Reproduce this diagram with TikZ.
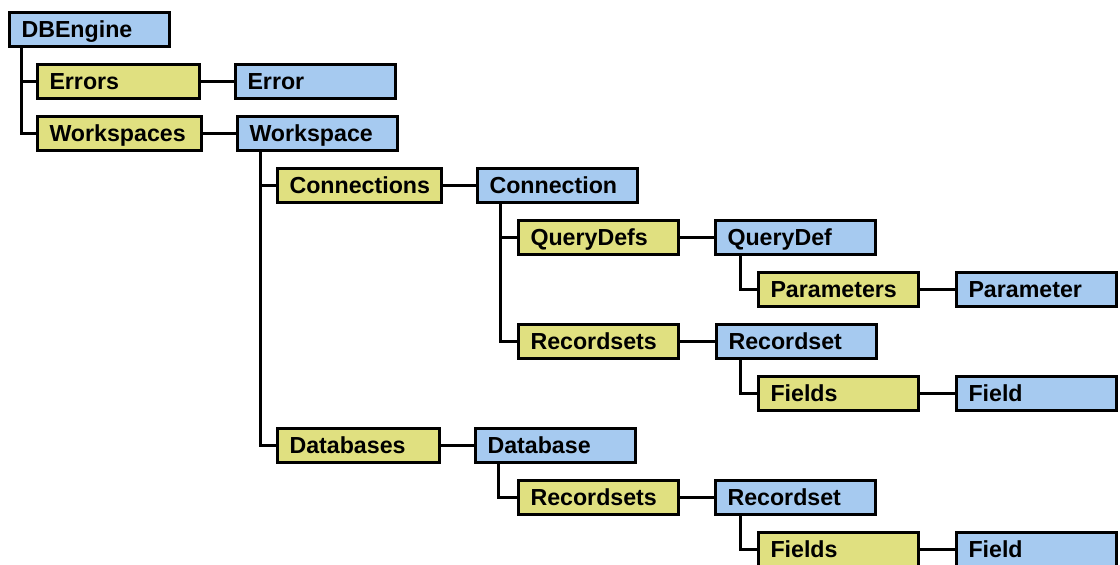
\documentclass[tikz,border=0pt]{standalone}
\usepackage{fontspec}
\setmainfont{Liberation Sans}
\usetikzlibrary{calc}
\definecolor{collblue}{RGB}{166,202,240}
\definecolor{collyellow}{RGB}{224,224,128}
\begin{document}
\begin{tikzpicture}[x=0.5pt,y=-0.5pt,
  obj/.style={draw=black, line width=1.5pt, anchor=west, shape=rectangle,
    minimum height=17pt, inner xsep=6pt, inner ysep=0pt,
    text width=68pt, align=left, text height=8.3pt, text depth=0pt,
    font=\fontsize{11.6pt}{14pt}\selectfont\bfseries},
  widebox/.style={text width=70pt},
  midbox/.style={text width=69pt},
  coll/.style={obj, fill=collyellow},
  item/.style={obj, fill=collblue},
  link/.style={draw=black, line width=1.5pt}]
\useasboundingbox (0,0) rectangle (1120,565);
\fill[white] (0,0) rectangle (1120,565);
\clip (0,0) rectangle (1120,565);

% object hierarchy, one row every 52 units
\node[item] (dbengine)    at (8,29.5)   {DBEngine};
\node[coll,midbox] (errors)      at (36,81.5)  {Errors};
\node[item] (error)       at (234,81.5) {Error};
\node[coll,widebox] (workspaces)  at (36,133.5) {Workspaces};
\node[item] (workspace)   at (236,133.5){Workspace};
\node[coll,widebox] (connections) at (276,185.5){Connections};
\node[item] (connection)  at (476,185.5){Connection};
\node[coll] (querydefs)   at (517,237.5){QueryDefs};
\node[item] (querydef)    at (714,237.5){QueryDef};
\node[coll] (parameters)  at (757,289.5){Parameters};
\node[item] (parameter)   at (955,289.5){Parameter};
\node[coll] (recordsetsA) at (517,341.5){Recordsets};
\node[item] (recordsetA)  at (715,341.5){Recordset};
\node[coll] (fieldsA)     at (757,393.5){Fields};
\node[item] (fieldA)      at (955,393.5){Field};
\node[coll,midbox] (databases)   at (276,445.5){Databases};
\node[item] (database)    at (474,445.5){Database};
\node[coll] (recordsetsB) at (517,497.5){Recordsets};
\node[item] (recordsetB)  at (714,497.5){Recordset};
\node[coll] (fieldsB)     at (757,549.5){Fields};
\node[item] (fieldB)      at (955,549.5){Field};

% collection -> member links
\draw[link] (errors.east) -- (error.west);
\draw[link] (workspaces.east) -- (workspace.west);
\draw[link] (connections.east) -- (connection.west);
\draw[link] (querydefs.east) -- (querydef.west);
\draw[link] (parameters.east) -- (parameter.west);
\draw[link] (recordsetsA.east) -- (recordsetA.west);
\draw[link] (fieldsA.east) -- (fieldA.west);
\draw[link] (databases.east) -- (database.west);
\draw[link] (recordsetsB.east) -- (recordsetB.west);
\draw[link] (fieldsB.east) -- (fieldB.west);

% parent -> child collection trees
\draw[link] ($(dbengine.south west)+(13,0)$) |- (errors.west);
\draw[link] ($(dbengine.south west)+(13,0)$) |- (workspaces.west);
\draw[link] ($(workspace.south west)+(24,0)$) |- (connections.west);
\draw[link] ($(workspace.south west)+(24,0)$) |- (databases.west);
\draw[link] ($(connection.south west)+(24,0)$) |- (querydefs.west);
\draw[link] ($(connection.south west)+(24,0)$) |- (recordsetsA.west);
\draw[link] ($(querydef.south west)+(26,0)$) |- (parameters.west);
\draw[link] ($(recordsetA.south west)+(25,0)$) |- (fieldsA.west);
\draw[link] ($(database.south west)+(24,0)$) |- (recordsetsB.west);
\draw[link] ($(recordsetB.south west)+(26,0)$) |- (fieldsB.west);
\end{tikzpicture}
\end{document}
